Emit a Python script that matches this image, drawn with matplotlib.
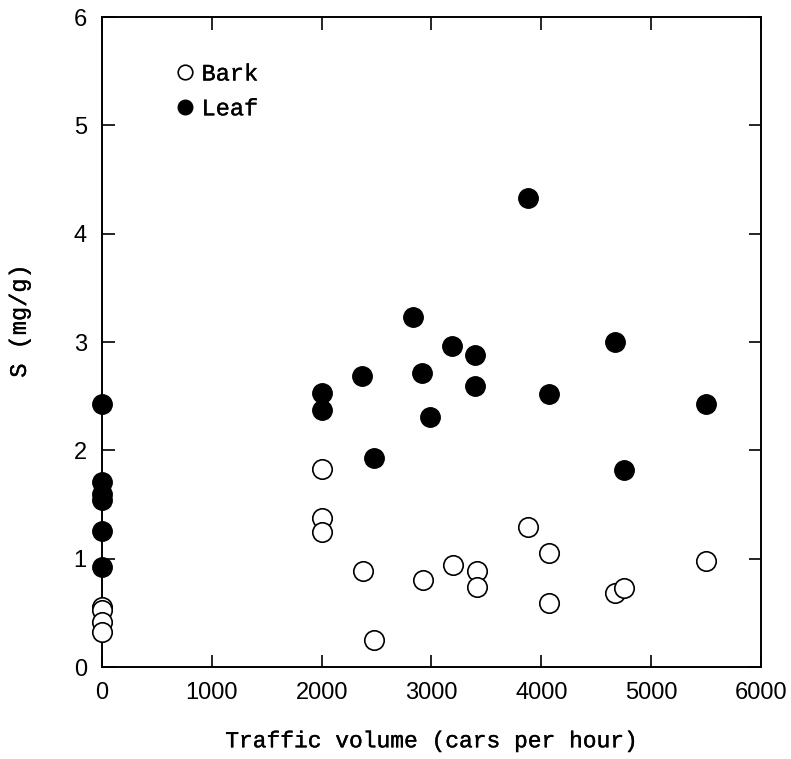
import matplotlib
matplotlib.use("Agg")
import matplotlib.pyplot as plt
import matplotlib.patheffects as pe

# Bark (open circles)
bark_x = [0, 0, 0, 0, 2000, 2000, 2000, 2380, 2480, 2920, 3200, 3410, 3410,
          3880, 4070, 4070, 4670, 4750, 5500]
bark_y = [0.55, 0.53, 0.42, 0.32, 1.83, 1.38, 1.25, 0.89, 0.25, 0.80, 0.94, 0.89, 0.74,
          1.29, 1.05, 0.59, 0.68, 0.73, 0.98]

# Leaf (filled circles)
leaf_x = [0, 0, 0, 0, 0, 0, 2000, 2000, 2370, 2480, 2830, 2910, 2990, 3190,
          3400, 3400, 3880, 4070, 4670, 4750, 5500]
leaf_y = [2.43, 1.71, 1.60, 1.54, 1.26, 0.92, 2.53, 2.37, 2.69, 1.93, 3.23, 2.71, 2.31, 2.96,
          2.88, 2.59, 4.33, 2.52, 3.00, 1.82, 2.43]

thick = [pe.withStroke(linewidth=0.25, foreground="black")]

fig = plt.figure(figsize=(7.91, 7.59), dpi=100)
ax = fig.add_axes([0.129, 0.1212, 0.833, 0.8564])

ax.plot(bark_x, bark_y, "o", ms=14, mfc="white", mec="black", mew=1.2,
        label="Bark", clip_on=False, zorder=3)
ax.plot(leaf_x, leaf_y, "o", ms=14, mfc="black", mec="black",
        label="Leaf", clip_on=False, zorder=3)

ax.set_xlim(0, 6000)
ax.set_ylim(0, 6)
ax.set_xticks([0, 1000, 2000, 3000, 4000, 5000, 6000])
ax.set_yticks([0, 1, 2, 3, 4, 5, 6])
ax.tick_params(direction="in", length=9, width=1.2, top=True, right=True,
               labelsize=17, pad=11)
for lab in ax.get_xticklabels() + ax.get_yticklabels():
    lab.set_fontfamily("Liberation Sans")
for s in ax.spines.values():
    s.set_linewidth(1.4)

ax.set_xlabel("Traffic volume (cars per hour)", family="Liberation Mono",
              fontsize=16.5, labelpad=18, path_effects=thick)
ax.set_ylabel("S (mg/g)", family="Liberation Mono", fontsize=17,
              path_effects=thick)
ax.yaxis.set_label_coords(-0.108, 0.532)

leg = ax.legend(loc="upper left", bbox_to_anchor=(0.108, 0.93), frameon=False,
                borderaxespad=0, borderpad=0,
                markerscale=0.75, handlelength=1.0, handletextpad=0.2,
                labelspacing=0.5,
                prop={"family": "Liberation Mono", "size": 17})
for t in leg.get_texts():
    t.set_path_effects(thick)

plt.savefig("out.png", dpi=100)
